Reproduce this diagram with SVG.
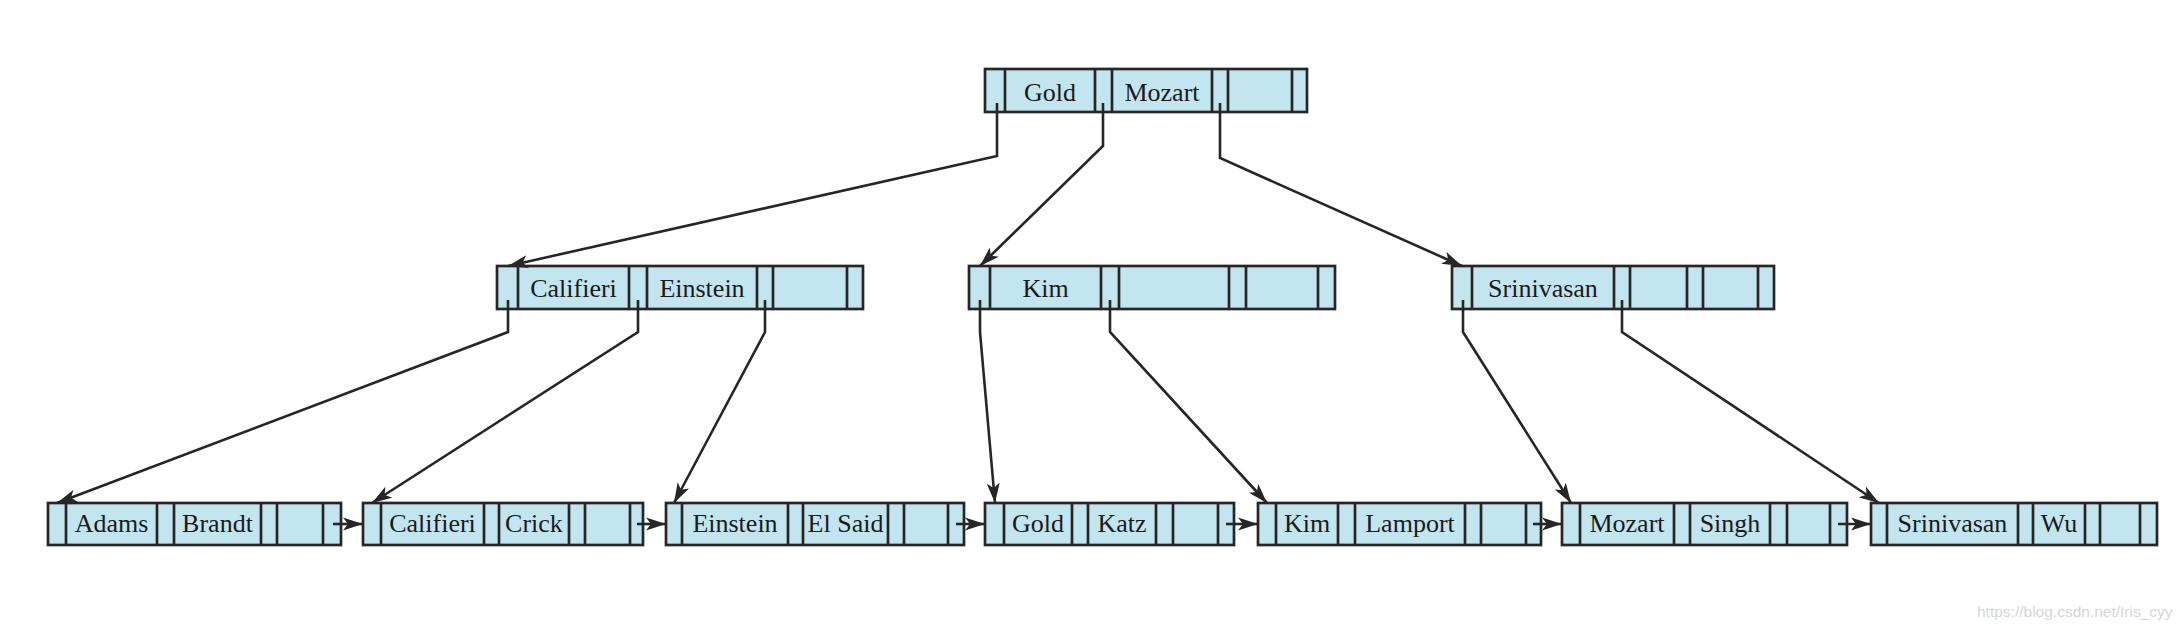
<svg xmlns="http://www.w3.org/2000/svg" width="2184" height="634" viewBox="0 0 2184 634">
<style>
.box{fill:#c2e5f0;stroke:#262626;stroke-width:2.7}
.dv{stroke:#262626;stroke-width:2.7;fill:none}
.t{font-family:"Liberation Serif","DejaVu Serif",serif;font-size:26px;fill:#1a1a1a;text-anchor:middle}
.c{fill:none;stroke:#262626;stroke-width:2.6;marker-end:url(#ah)}
.wm{font-family:"Liberation Sans",Arial,sans-serif;font-size:15.5px;fill:#d6d6d6}
</style>
<defs>
<marker id="ah" markerUnits="userSpaceOnUse" markerWidth="21" markerHeight="14" refX="20" refY="7" orient="auto">
<path d="M0,0.5 L20,7 L0,13.5 L5,7 Z" fill="#262626"/>
</marker>
</defs>
<rect width="2184" height="634" fill="#ffffff"/>

<g id="root">
<rect class="box" x="985" y="69" width="322" height="43"/>
<path class="dv" d="M1005,69V112M1095,69V112M1112,69V112M1212,69V112M1228,69V112M1292,69V112"/>
<text class="t" x="1050" y="101">Gold</text>
<text class="t" x="1162" y="101">Mozart</text>
</g>

<g id="n-califieri">
<rect class="box" x="497" y="266" width="366" height="43"/>
<path class="dv" d="M518,266V309M629,266V309M647,266V309M757,266V309M773,266V309M847,266V309"/>
<text class="t" x="573.5" y="297">Califieri</text>
<text class="t" x="702" y="297">Einstein</text>
</g>

<g id="n-kim">
<rect class="box" x="969" y="266" width="366" height="43"/>
<path class="dv" d="M990,266V309M1101,266V309M1119,266V309M1229,266V309M1246,266V309M1318,266V309"/>
<text class="t" x="1045.5" y="297">Kim</text>
</g>

<g id="n-srinivasan">
<rect class="box" x="1452" y="266" width="322" height="43"/>
<path class="dv" d="M1472,266V309M1614,266V309M1630,266V309M1687,266V309M1703,266V309M1758,266V309"/>
<text class="t" x="1543" y="297">Srinivasan</text>
</g>

<g id="leaf-adams">
<rect class="box" x="48" y="503" width="293" height="42"/>
<path class="dv" d="M66,503V545M157,503V545M174,503V545M261,503V545M277,503V545M323,503V545"/>
<text class="t" x="111.5" y="532">Adams</text>
<text class="t" x="217.5" y="532">Brandt</text>
</g>

<g id="leaf-califieri">
<rect class="box" x="363" y="503" width="280" height="42"/>
<path class="dv" d="M381,503V545M484,503V545M499,503V545M569,503V545M585,503V545M630,503V545"/>
<text class="t" x="432.5" y="532">Califieri</text>
<text class="t" x="534" y="532">Crick</text>
</g>

<g id="leaf-einstein">
<rect class="box" x="666" y="503" width="298" height="42"/>
<path class="dv" d="M682,503V545M788,503V545M803,503V545M888,503V545M904,503V545M948,503V545"/>
<text class="t" x="735" y="532">Einstein</text>
<text class="t" x="845.5" y="532">El Said</text>
</g>

<g id="leaf-gold">
<rect class="box" x="985" y="503" width="249" height="42"/>
<path class="dv" d="M1004,503V545M1072,503V545M1088,503V545M1156,503V545M1173,503V545M1218,503V545"/>
<text class="t" x="1038" y="532">Gold</text>
<text class="t" x="1122" y="532">Katz</text>
</g>

<g id="leaf-kim">
<rect class="box" x="1258" y="503" width="283" height="42"/>
<path class="dv" d="M1276,503V545M1338,503V545M1355,503V545M1465,503V545M1481,503V545M1526,503V545"/>
<text class="t" x="1307" y="532">Kim</text>
<text class="t" x="1410" y="532">Lamport</text>
</g>

<g id="leaf-mozart">
<rect class="box" x="1562" y="503" width="285" height="42"/>
<path class="dv" d="M1580,503V545M1674,503V545M1690,503V545M1770,503V545M1787,503V545M1830,503V545"/>
<text class="t" x="1627" y="532">Mozart</text>
<text class="t" x="1730" y="532">Singh</text>
</g>

<g id="leaf-srinivasan">
<rect class="box" x="1871" y="503" width="286" height="42"/>
<path class="dv" d="M1887,503V545M2018,503V545M2033,503V545M2085,503V545M2100,503V545M2140,503V545"/>
<text class="t" x="1952.5" y="532">Srinivasan</text>
<text class="t" x="2059" y="532">Wu</text>
</g>

<g id="connectors">
<path class="c" d="M997,103V156L508,266"/>
<path class="c" d="M1103,103V146L980,266"/>
<path class="c" d="M1220,103V158L1462,266"/>
<path class="c" d="M508,300V332L57,503"/>
<path class="c" d="M638,300V332L372,503"/>
<path class="c" d="M765,300V332L674,503"/>
<path class="c" d="M980,300V332L995,503"/>
<path class="c" d="M1110,300V332L1267,503"/>
<path class="c" d="M1463,300V332L1571,503"/>
<path class="c" d="M1622,300V332L1879,503"/>
<path class="c" d="M333,524H363"/>
<path class="c" d="M637,524H666"/>
<path class="c" d="M956,524H985"/>
<path class="c" d="M1226,524H1258"/>
<path class="c" d="M1533,524H1562"/>
<path class="c" d="M1838,524H1871"/>
</g>

<text class="wm" x="1977" y="617">https://blog.csdn.net/Iris_cyy</text>
</svg>
